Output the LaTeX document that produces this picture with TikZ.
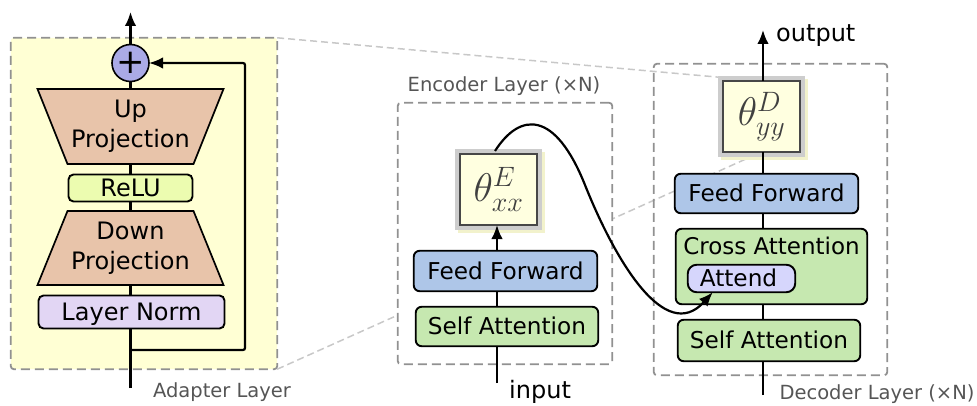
\RequirePackage{fix-cm}
\documentclass[tikz,border=0pt]{standalone}
\usepackage{fontspec}
\setmainfont{DejaVu Sans}
\usetikzlibrary{arrows.meta}
\pgfdeclarelayer{back}
\pgfdeclarelayer{mid}
\pgfsetlayers{back,mid,main}
\definecolor{adbg}{RGB}{255,255,212}
\definecolor{projc}{RGB}{232,196,170}
\definecolor{reluc}{RGB}{236,252,176}
\definecolor{lnc}{RGB}{226,214,244}
\definecolor{plusc}{RGB}{170,170,230}
\definecolor{ffc}{RGB}{174,198,232}
\definecolor{sac}{RGB}{198,232,176}
\definecolor{attc}{RGB}{214,214,252}
\definecolor{thc}{RGB}{255,255,224}
\definecolor{shc}{RGB}{242,242,204}
\definecolor{ringc}{RGB}{205,205,205}
\definecolor{dashc}{RGB}{145,145,145}
\definecolor{zoomc}{RGB}{200,200,200}
\definecolor{labc}{RGB}{85,85,85}
\begin{document}
\begin{tikzpicture}[x=1pt,y=-1pt,
  conn/.style={line width=2.2pt},
  arr/.style={line width=2.2pt, -{Latex[length=14pt,width=11.5pt]}},
  ablk/.style={draw, line width=1.9pt, rounded corners=5pt, inner sep=0pt, outer sep=0pt, font=\fontsize{24}{29}\selectfont, text height=17.5pt, text depth=0pt},
  blk/.style={draw, line width=1.9pt, rounded corners=6pt, inner sep=0pt, outer sep=0pt, font=\fontsize{23.2}{28}\selectfont, text height=16.9pt, text depth=0pt},
  trap/.style={inner sep=0pt, outer sep=0pt, align=center, font=\fontsize{24}{30}\selectfont},
  cont/.style={draw=dashc, line width=1.8pt, dash pattern=on 9pt off 5pt, rounded corners=3pt, inner sep=0pt, outer sep=0pt},
  zoomln/.style={draw=zoomc, line width=1.5pt, dash pattern=on 7pt off 4pt},
  glab/.style={text=labc, font=\fontsize{19.5}{23}\selectfont, inner sep=0pt},
  iolab/.style={font=\fontsize{24}{29}\selectfont, inner sep=0pt},
  thetabox/.style={draw=black!72, line width=2.4pt, fill=thc, minimum width=77pt, minimum height=71pt,
    inner sep=0pt, outer sep=0pt, text=black!75, font=\fontsize{40}{48}\selectfont,
    preaction={draw=shc, fill=shc, line width=10pt, transform canvas={xshift=3pt,yshift=-3pt}},
    preaction={draw=ringc, line width=10pt}}
]
\useasboundingbox (0,0) rectangle (977,406);

% ---------------- Adapter layer ----------------
\node[circle, draw, line width=1.6pt, fill=plusc, minimum size=37pt, inner sep=0pt, outer sep=0pt, font=\fontsize{34}{34}\selectfont] (plus) at (130.5,63) {+};
\node[trap, minimum width=186pt, minimum height=75pt] (up) at (130.5,126.5) {Up\\Projection};
\node[ablk, fill=reluc, minimum width=124pt, minimum height=27pt] (relu) at (130.5,188) {ReLU};
\node[trap, minimum width=186pt, minimum height=74pt] (down) at (130.5,248) {Down\\Projection};
\node[ablk, fill=lnc, minimum width=186pt, minimum height=33pt] (ln) at (131.5,312) {Layer Norm};
\begin{pgfonlayer}{mid}
\draw[line width=1.7pt, fill=projc] (up.north west) -- (up.north east) -- ([xshift=-30pt]up.south east) -- ([xshift=30pt]up.south west) -- cycle;
\draw[line width=1.7pt, fill=projc] ([xshift=30pt]down.north west) -- ([xshift=-30pt]down.north east) -- (down.south east) -- (down.south west) -- cycle;
\end{pgfonlayer}
\coordinate (ain) at (130.5,388);
\coordinate (aout) at (130.5,12);
\coordinate (sk) at (130.5,350);
\coordinate (skr) at (245,350);
\draw[conn] (ain) -- (ain |- ln.south);
\draw[conn] (ln.north -| ain) -- (down.south -| ain);
\draw[conn] (down.north -| ain) -- (relu.south -| ain);
\draw[conn] (relu.north -| ain) -- (up.south -| ain);
\draw[conn] (up.north -| ain) -- (plus.south);
\draw[arr] (plus.north) -- (aout);
\draw[arr, rounded corners=2pt] (sk) -- (skr) |- (plus.east);
\node[glab, anchor=base] (alab) at (222,397) {Adapter Layer};

% ---------------- Encoder ----------------
\node[blk, fill=sac, minimum width=182.5pt, minimum height=39.5pt] (esa) at (507,326.5) {Self Attention};
\node[blk, fill=ffc, minimum width=183.5pt, minimum height=40.5pt] (eff) at (505.5,271) {Feed Forward};
\node[thetabox] (tx) at (498.5,189.5) {$\theta^{E}_{xx}$};
\coordinate (ein) at (497,383);
\draw[conn] (ein) -- (ein |- esa.south);
\draw[conn] (esa.north -| ein) -- (eff.south -| ein);
\draw[arr] (eff.north -| ein) -- (tx.south -| ein);
\node[glab, anchor=base] (elab) at (504,92) {Encoder Layer (×N)};
\node[iolab, anchor=base west] (inlab) at (509,398) {input};

% ---------------- Decoder ----------------
\node[blk, fill=sac, minimum width=182.5pt, minimum height=41.5pt] (dsa) at (769,340.5) {Self Attention};
\node[blk, fill=sac, minimum width=191.5pt, minimum height=75.5pt] (dca) at (771.5,266.5) {};
\node[font=\fontsize{23}{28}\selectfont, inner sep=0pt, text height=16.8pt, text depth=0pt] (catext) at (771.5,246.5) {Cross Attention};
\node[blk, fill=attc, rounded corners=9pt, minimum width=107.5pt, minimum height=27.5pt] (att) at (741.5,278.5) {Attend\hspace*{6pt}};
\node[blk, fill=ffc, minimum width=183.5pt, minimum height=39.5pt] (dff) at (766.5,193.5) {Feed Forward};
\node[thetabox] (ty) at (761.5,116.5) {$\theta^{D}_{yy}$};
\coordinate (din) at (763,395);
\coordinate (dout) at (763,30);
\draw[conn] (din) -- (din |- dsa.south);
\draw[conn] (dsa.north -| din) -- (dca.south -| din);
\draw[conn] (dca.north -| din) -- (dff.south -| din);
\draw[conn] (dff.north -| din) -- (ty.south -| din);
\draw[arr] (ty.north -| din) -- (dout);
\node[iolab, anchor=base west] (outlab) at (776,42) {output};
\node[glab, anchor=base] (dlab) at (877,399) {Decoder Layer (×N)};

% ---------------- Encoder -> Attend ----------------
\draw[arr] ([xshift=-3.5pt,yshift=3pt]tx.north) .. controls (520,112) and (555,110) .. (585,185)
   .. controls (615,260) and (665,345) .. ([xshift=25pt]att.south west);

% ---------------- Containers and zoom lines ----------------
\begin{pgfonlayer}{back}
\node[cont, fill=adbg, minimum width=266.4pt, minimum height=331.4pt] (abox) at (144,203.5) {};
\draw[zoomln] (abox.north east) -- (ty.north);
\draw[zoomln] (abox.south east) -- (ty.south);
\node[cont, fill=white, minimum width=214.4pt, minimum height=261.4pt] (ebox) at (505,233.5) {};
\node[cont, minimum width=233.4pt, minimum height=311.4pt] (dbox) at (770.5,219.5) {};
\end{pgfonlayer}
\end{tikzpicture}
\end{document}
